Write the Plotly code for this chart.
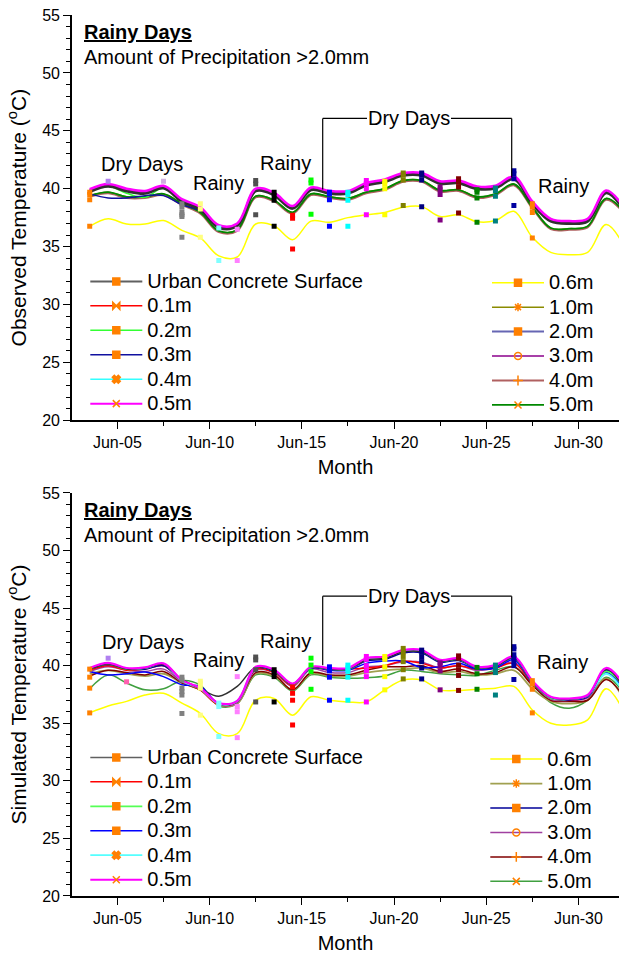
import plotly.graph_objects as go

# ---------------- data ----------------
days = [3.5, 4.5, 5.5, 6.5, 7.5, 8.5, 9.5, 10.5, 11.5, 12.5, 13.5, 14.5, 15.5, 16.5, 17.5,
        18.5, 19.5, 20.5, 21.5, 22.5, 23.5, 24.5, 25.5, 26.5, 27.5, 28.5, 29.5, 30.5, 31.5, 32.5]
tick_days = [5, 10, 15, 20, 25, 30]
tick_labels = ["Jun-05", "Jun-10", "Jun-15", "Jun-20", "Jun-25", "Jun-30"]
minor_days = [7.5, 12.5, 17.5, 22.5, 27.5]

series_names = ["Urban Concrete Surface", "0.1m", "0.2m", "0.3m", "0.4m", "0.5m",
                "0.6m", "1.0m", "2.0m", "3.0m", "4.0m", "5.0m"]

# Observed temperature (smoothed curves, degC)
obs_bundle = [39.85, 40.30, 39.90, 39.70, 40.15, 39.00, 38.30, 36.75, 36.90, 39.90, 39.55, 38.40, 40.00, 39.70, 39.70,
              40.40, 40.70, 41.25, 41.25, 40.55, 40.60, 40.10, 40.15, 40.95, 38.80, 37.30, 37.10, 37.30, 39.75, 38.20]
obs_urban = [39.75, 40.20, 39.80, 39.60, 40.05, 38.90, 38.20, 36.65, 36.80, 39.80, 39.45, 38.30, 39.90, 39.60, 39.60,
             40.30, 40.60, 41.15, 41.15, 40.45, 40.50, 40.00, 40.05, 40.85, 38.70, 37.20, 37.00, 37.20, 39.65, 38.10]
obs_02 = [39.80, 40.20, 39.60, 39.25, 40.05, 38.90, 38.30, 36.75, 36.90, 39.90, 39.55, 38.40, 40.00, 39.70, 39.70,
          40.40, 40.70, 41.25, 41.25, 40.55, 40.60, 40.10, 40.15, 40.95, 38.80, 37.30, 37.10, 37.30, 39.75, 38.20]
obs_03 = [39.55, 39.20, 39.20, 39.40, 39.40, 38.60, 38.10, 36.75, 36.90, 39.90, 39.55, 38.40, 40.00, 39.70, 39.70,
          40.40, 40.70, 41.25, 41.25, 40.55, 40.60, 40.10, 40.15, 40.95, 38.80, 37.30, 37.10, 37.30, 39.75, 38.20]
obs_05 = [39.95, 40.40, 40.00, 39.80, 40.25, 39.10, 38.40, 36.85, 37.00, 40.00, 39.65, 38.50, 40.10, 39.80, 39.80,
          40.50, 40.80, 41.35, 41.35, 40.65, 40.70, 40.20, 40.25, 41.05, 38.90, 37.40, 37.20, 37.40, 39.85, 38.30]
obs_06 = [36.75, 37.40, 36.95, 36.95, 37.25, 36.40, 35.75, 34.20, 34.10, 36.95, 36.80, 35.60, 37.20, 37.10, 37.50,
          37.75, 37.95, 38.40, 38.45, 37.60, 37.75, 37.15, 37.25, 38.05, 35.80, 34.50, 34.30, 34.50, 36.90, 35.00]
obs_low = [39.40, 39.70, 39.30, 39.30, 39.55, 38.70, 37.95, 36.35, 36.45, 39.35, 39.00, 37.95, 39.55, 39.30, 39.15,
           39.70, 40.00, 40.70, 40.70, 39.85, 39.90, 39.30, 39.55, 40.40, 38.40, 36.60, 36.55, 36.75, 39.15, 37.95]
obs_40 = [39.30, 39.60, 39.20, 39.20, 39.45, 38.60, 37.85, 36.25, 36.35, 39.25, 38.90, 37.85, 39.45, 39.20, 39.05,
          39.60, 39.90, 40.60, 40.60, 39.75, 39.80, 39.20, 39.45, 40.30, 38.30, 36.50, 36.45, 36.65, 39.05, 37.85]
observed = {"Urban Concrete Surface": obs_urban, "0.1m": obs_bundle, "0.2m": obs_02, "0.3m": obs_03,
            "0.4m": obs_bundle, "0.5m": obs_05, "0.6m": obs_06, "1.0m": obs_low, "2.0m": obs_bundle,
            "3.0m": obs_bundle, "4.0m": obs_40, "5.0m": obs_low}

# Simulated temperature (smoothed curves, degC)
sim_urban = [39.70, 40.15, 39.70, 39.80, 40.10, 38.80, 38.00, 37.35, 38.20, 39.85, 39.55, 38.40, 39.85, 39.70, 39.70,
             40.50, 40.65, 41.20, 41.20, 40.40, 40.55, 39.85, 39.95, 40.70, 38.60, 37.25, 37.10, 37.40, 39.70, 38.00]
sim_01 = [39.60, 40.00, 39.60, 39.70, 40.00, 38.70, 37.90, 36.60, 36.90, 39.70, 39.40, 38.30, 39.80, 39.60, 39.70,
          39.80, 40.00, 40.40, 40.20, 39.80, 40.00, 39.70, 39.80, 40.20, 38.50, 37.20, 37.00, 37.30, 39.60, 37.90]
sim_02 = [39.70, 40.15, 39.70, 39.80, 40.15, 38.70, 38.00, 36.70, 36.90, 39.85, 39.55, 38.40, 39.85, 39.70, 39.70,
          40.55, 40.70, 41.25, 41.25, 40.40, 40.55, 39.85, 40.00, 40.70, 38.60, 37.20, 37.10, 37.40, 39.50, 38.10]
sim_03 = [39.50, 39.20, 39.30, 39.45, 39.05, 38.35, 38.20, 36.70, 36.90, 39.80, 39.50, 38.40, 39.80, 39.60, 39.60,
          40.20, 40.40, 40.40, 39.85, 39.90, 40.20, 39.70, 39.80, 40.50, 38.50, 37.20, 37.05, 37.30, 39.40, 37.80]
sim_04 = [39.75, 40.20, 39.75, 39.80, 40.15, 38.70, 38.00, 36.70, 36.95, 39.85, 39.60, 38.40, 39.85, 39.75, 39.75,
          40.60, 40.75, 41.30, 41.30, 40.45, 40.60, 39.85, 40.00, 40.75, 38.65, 37.25, 37.10, 37.40, 39.30, 37.60]
sim_05 = [39.80, 40.25, 39.80, 39.85, 40.20, 38.75, 38.05, 36.75, 36.95, 39.90, 39.65, 38.45, 39.90, 39.80, 39.80,
          40.65, 40.80, 41.35, 41.35, 40.50, 40.65, 39.90, 40.05, 40.80, 38.70, 37.30, 37.15, 37.45, 39.80, 38.30]
sim_06 = [35.90, 36.50, 36.90, 37.45, 37.60, 36.75, 35.85, 34.10, 34.10, 37.00, 37.15, 35.70, 37.30, 37.00, 36.85,
          36.85, 37.90, 38.75, 38.75, 37.90, 37.85, 37.95, 38.05, 38.20, 36.15, 35.00, 34.85, 35.30, 38.00, 35.90]
sim_10 = [39.30, 39.60, 39.30, 39.10, 39.30, 38.50, 37.90, 36.60, 36.70, 39.30, 39.10, 37.90, 39.30, 39.10, 39.10,
          39.40, 39.60, 39.70, 39.80, 39.40, 39.50, 39.20, 39.30, 39.60, 38.00, 36.90, 36.70, 37.00, 38.90, 37.00]
sim_20 = [39.70, 40.10, 39.70, 39.70, 40.00, 38.70, 38.00, 36.70, 36.90, 39.80, 39.50, 38.40, 39.80, 39.70, 39.70,
          40.40, 40.55, 41.10, 41.10, 40.30, 40.45, 39.80, 39.95, 40.65, 38.60, 37.20, 37.05, 37.35, 39.60, 38.00]
sim_30 = [39.50, 39.90, 39.60, 39.50, 39.70, 38.60, 37.90, 36.60, 36.80, 39.60, 39.40, 38.20, 39.70, 39.40, 39.40,
          39.90, 40.00, 40.35, 40.30, 39.80, 40.00, 39.60, 39.80, 40.30, 38.50, 37.10, 37.00, 37.20, 39.40, 37.70]
sim_40 = [39.10, 39.60, 39.40, 39.20, 39.50, 38.50, 37.90, 36.70, 36.90, 39.40, 39.20, 37.90, 39.40, 39.20, 39.20,
          39.60, 39.90, 39.90, 40.00, 39.50, 39.70, 39.30, 39.40, 39.90, 38.30, 37.00, 36.90, 37.00, 38.80, 37.20]
sim_50 = [38.00, 39.20, 38.50, 37.90, 38.00, 38.70, 38.30, 36.50, 36.70, 39.20, 39.00, 37.80, 39.20, 39.00, 38.90,
          38.95, 39.10, 39.60, 39.50, 39.30, 39.20, 39.15, 39.60, 39.90, 38.40, 36.80, 36.30, 37.00, 39.00, 37.50]
simulated = {"Urban Concrete Surface": sim_urban, "0.1m": sim_01, "0.2m": sim_02, "0.3m": sim_03,
             "0.4m": sim_04, "0.5m": sim_05, "0.6m": sim_06, "1.0m": sim_10, "2.0m": sim_20,
             "3.0m": sim_30, "4.0m": sim_40, "5.0m": sim_50}

# raw daily readings (scatter markers), grouped by day
obs_marker_days = [3.5, 4.5, 7.5, 8.5, 9.5, 10.5, 11.5, 12.5, 13.5, 14.5, 15.5, 16.5, 17.5,
                   18.5, 19.5, 20.5, 21.5, 22.5, 23.5, 24.5, 25.5, 26.5, 27.5]
obs_marker_vals = [[39.70, 39.50, 39.05, 36.75], [40.65], [40.65],
                   [38.70, 38.40, 37.95, 37.75, 37.60, 35.80], [38.70, 38.25, 35.80], [36.60, 33.80],
                   [36.50, 33.80], [40.70, 40.40, 37.75], [39.70, 39.40, 39.00, 36.75], [37.70, 37.45, 34.80],
                   [40.75, 40.50, 37.80], [39.70, 39.55, 39.05, 36.75], [39.70, 39.50, 39.00, 36.75],
                   [40.70, 40.45, 40.00, 37.75], [40.65, 40.40, 40.00, 37.75], [41.35, 41.15, 40.75, 38.55],
                   [41.35, 41.15, 40.75, 38.45], [40.15, 39.90, 39.50, 37.30], [40.85, 40.55, 40.15, 37.90],
                   [39.90, 39.70, 39.20, 37.10], [40.05, 39.85, 39.35, 37.20], [41.55, 41.30, 40.85, 38.55],
                   [38.70, 38.40, 37.95, 35.75]]
sim_marker_days = [3.5, 4.5, 5.5, 8.5, 9.5, 10.5, 11.5, 12.5, 13.5, 14.5, 15.5, 16.5, 17.5,
                   18.5, 19.5, 20.5, 21.5, 22.5, 23.5, 24.5, 25.5, 26.5, 27.5]
sim_marker_vals = [[39.70, 39.00, 38.05, 35.90], [40.65], [38.60],
                   [39.00, 38.75, 38.05, 37.75, 37.45, 35.85], [38.65, 38.45, 38.05, 35.70], [36.75, 36.45, 33.85],
                   [39.05, 36.45, 36.00, 33.75], [40.75, 40.50, 39.65, 36.85], [39.65, 39.40, 39.05, 36.85],
                   [38.15, 37.60, 37.00, 34.85], [40.65, 40.05, 39.50, 37.95], [39.90, 39.55, 39.00, 37.00],
                   [40.05, 39.80, 39.50, 39.00, 37.00], [40.80, 40.55, 40.00, 39.55, 39.05, 36.85],
                   [40.80, 40.55, 39.90, 39.05, 37.90], [41.50, 41.20, 40.80, 40.35, 39.65, 38.85],
                   [41.35, 41.15, 40.75, 40.35, 39.80, 38.85], [40.25, 40.05, 39.55, 37.90],
                   [40.85, 40.65, 40.05, 39.65, 39.15, 37.85], [39.85, 39.30, 37.95], [40.05, 39.80, 39.40, 37.45],
                   [41.65, 41.45, 40.95, 40.65, 40.35, 40.00, 38.80], [38.70, 38.40, 37.95, 35.90]]

# ---------------- styles ----------------
day_colors = {3.5: "#FF8000", 4.5: "#B080F0", 5.5: "#FF60B0", 7.5: "#D0B0E0", 8.5: "#808080",
              9.5: "#FFFF80", 10.5: "#80FFFF", 11.5: "#FF80FF", 12.5: "#505050", 13.5: "#000000",
              14.5: "#FF0000", 15.5: "#00FF00", 16.5: "#0000FF", 17.5: "#00FFFF", 18.5: "#FF00FF",
              19.5: "#FFFF00", 20.5: "#808000", 21.5: "#000080", 22.5: "#800080", 23.5: "#800000",
              24.5: "#008000", 25.5: "#008080", 26.5: "#0000A0", 27.5: "#FF8000"}

top_style = {"Urban Concrete Surface": ("#303030", 3.0), "0.1m": ("#FF0000", 1.5), "0.2m": ("#33FF33", 1.5),
             "0.3m": ("#1010A0", 1.5), "0.4m": ("#33FFFF", 1.5), "0.5m": ("#FF00FF", 2.5),
             "0.6m": ("#FFFF00", 1.5), "1.0m": ("#8B8B00", 1.5), "2.0m": ("#6666B3", 2.0),
             "3.0m": ("#8B008B", 1.5), "4.0m": ("#B06060", 2.0), "5.0m": ("#008800", 1.8)}
bot_style = {"Urban Concrete Surface": ("#303030", 1.5), "0.1m": ("#FF0000", 1.5), "0.2m": ("#55FF55", 1.8),
             "0.3m": ("#0000FF", 1.5), "0.4m": ("#55FFFF", 1.8), "0.5m": ("#FF00FF", 2.2),
             "0.6m": ("#FFFF00", 1.5), "1.0m": ("#A0A050", 1.8), "2.0m": ("#000099", 1.5),
             "3.0m": ("#A040A0", 1.5), "4.0m": ("#800000", 1.5), "5.0m": ("#40A040", 1.5)}
legend_line_colors = {"Urban Concrete Surface": "#606060"}
top_order = ["0.6m", "1.0m", "4.0m", "5.0m", "0.1m", "0.2m", "0.4m", "2.0m", "3.0m", "0.3m",
             "Urban Concrete Surface", "0.5m"]
bot_order = ["0.6m", "5.0m", "1.0m", "4.0m", "3.0m", "0.1m", "0.3m", "2.0m", "0.2m", "0.4m",
             "Urban Concrete Surface", "0.5m"]
legend_symbols = {"Urban Concrete Surface": "square", "0.1m": "bowtie", "0.2m": "square-x", "0.3m": "square",
                  "0.4m": "x", "0.5m": "x-thin-open", "0.6m": "square", "1.0m": "asterisk-open",
                  "2.0m": "square", "3.0m": "circle-open", "4.0m": "cross-thin-open", "5.0m": "x-thin-open"}

FONT = "Liberation Sans, Arial, sans-serif"
W, H = 620, 954
L, R, T, B = 72, 1, 14.5, 58
pw, ph = W - L - R, H - T - B
ITEMW = 52


def fx(px):
    return (px - L) / pw


def fy(py):
    return (H - B - py) / ph


fig = go.Figure()

panels = [
    ("x", "y", observed, top_style, top_order, obs_marker_days, obs_marker_vals, "legend", "legend2"),
    ("x2", "y2", simulated, bot_style, bot_order, sim_marker_days, sim_marker_vals, "legend3", "legend4"),
]
for xa, ya, curves, style, order, mdays, mvals, lg_a, lg_b in panels:
    for name in order:
        col, wid = style[name]
        fig.add_trace(go.Scatter(x=days, y=curves[name], mode="lines", line=dict(color=col, width=wid, shape="spline", smoothing=1.0),
                                 xaxis=xa, yaxis=ya, showlegend=False, hoverinfo="skip"))
    mx, my, mc = [], [], []
    for d, vals in zip(mdays, mvals):
        for v in vals:
            mx.append(d)
            my.append(v)
            mc.append(day_colors[d])
    fig.add_trace(go.Scatter(x=mx, y=my, mode="markers", marker=dict(symbol="square", size=5, color=mc),
                             xaxis=xa, yaxis=ya, showlegend=False, hoverinfo="skip"))
    for i, name in enumerate(series_names):
        col, wid = style[name]
        col = legend_line_colors.get(name, col)
        sym = legend_symbols[name]
        fig.add_trace(go.Scatter(x=[None], y=[None], mode="lines+markers", name=f'<span style="font-size:20px">{name}</span>',
                                 line=dict(color=col, width=min(wid, 2.0)),
                                 marker=dict(symbol=sym, size=7, color="#FF8000", line=dict(color="#FF8000", width=1.5)),
                                 xaxis=xa, yaxis=ya, legend=lg_a if i < 6 else lg_b))

top_dom = [fy(420), 1.0]
bot_dom = [0.0, fy(492.7)]
xr = [2.54, 32.2]
yr = [20, 55]

xbase = dict(range=xr, tickmode="array", tickvals=tick_days, ticktext=tick_labels, ticks="outside", ticklen=7,
             tickwidth=1.3, tickcolor="black", showline=True, linecolor="black", linewidth=1.6, showgrid=False,
             zeroline=False, tickfont=dict(size=16, color="black", family=FONT),
             minor=dict(tickvals=minor_days, ticks="outside", ticklen=4, tickcolor="black", tickwidth=1.3),
             title=dict(text="Month", font=dict(size=20, color="black", family=FONT), standoff=10))
ybase = dict(range=yr, tickmode="linear", tick0=20, dtick=5, ticks="outside", ticklen=7, tickwidth=1.3,
             tickcolor="black", showline=True, linecolor="black", linewidth=1.6, showgrid=False, zeroline=False,
             tickfont=dict(size=16, color="black", family=FONT),
             minor=dict(dtick=1, ticks="outside", ticklen=4, tickcolor="black", tickwidth=1.3))
xmir = dict(range=xr, tickmode="array", tickvals=tick_days, ticks="inside", ticklen=7, tickwidth=1.3,
            tickcolor="black", showline=True, linecolor="black", linewidth=1.6, showgrid=False, zeroline=False,
            showticklabels=False, side="top",
            minor=dict(tickvals=minor_days, ticks="inside", ticklen=4, tickcolor="black", tickwidth=1.3))
ymir = dict(range=yr, tickmode="linear", tick0=20, dtick=5, ticks="inside", ticklen=7, tickwidth=1.3,
            tickcolor="black", showline=True, linecolor="black", linewidth=1.6, showgrid=False, zeroline=False,
            showticklabels=False, side="right",
            minor=dict(dtick=1, ticks="inside", ticklen=4, tickcolor="black", tickwidth=1.3))

ytitle_font = dict(size=21, color="black", family=FONT)
fig.update_layout(
    width=W, height=H, margin=dict(l=L, r=R, t=T, b=B, autoexpand=False),
    paper_bgcolor="white", plot_bgcolor="white",
    font=dict(family=FONT, color="black"),
    xaxis=dict(xbase, anchor="y", domain=[0, 1]),
    yaxis=dict(ybase, anchor="x", domain=top_dom,
               title=dict(text="Observed Temperature (<sup>o</sup>C)", font=ytitle_font, standoff=10)),
    xaxis2=dict(xbase, anchor="y2", domain=[0, 1]),
    yaxis2=dict(ybase, anchor="x2", domain=bot_dom,
                title=dict(text="Simulated Temperature (<sup>o</sup>C)", font=ytitle_font, standoff=10)),
    xaxis3=dict(xmir, overlaying="x", anchor="y"),
    yaxis3=dict(ymir, overlaying="y", anchor="x"),
    xaxis4=dict(xmir, overlaying="x2", anchor="y2"),
    yaxis4=dict(ymir, overlaying="y2", anchor="x2"),
    showlegend=True,
)

lg_common = dict(xanchor="left", yanchor="top", bgcolor="rgba(0,0,0,0)", borderwidth=0, itemwidth=ITEMW,
                 font=dict(size=16.5, color="black", family=FONT), tracegroupgap=0, itemclick=False)
shift = ITEMW + 10
fig.update_layout(
    legend=dict(lg_common, x=fx(147.3 - shift), y=fy(263.8)),
    legend2=dict(lg_common, x=fx(549.0 - shift), y=fy(265.1)),
    legend3=dict(lg_common, x=fx(147.3 - shift), y=fy(740.1)),
    legend4=dict(lg_common, x=fx(547.3 - shift), y=fy(741.8)),
)

# text annotations and the "Dry Days" brackets
ann_font = dict(size=20, color="black", family=FONT)
texts = [
    ("<b><u>Rainy Days</u></b>", 82, 32, "left"), ("Amount of Precipitation >2.0mm", 82, 57, "left"),
    ("Dry Days", 141.5, 164, "center"), ("Rainy", 218.5, 183, "center"), ("Rainy", 285.5, 163, "center"),
    ("Dry Days", 409, 118, "center"), ("Rainy", 563.5, 185.5, "center"),
    ("<b><u>Rainy Days</u></b>", 82, 510, "left"), ("Amount of Precipitation >2.0mm", 82, 535, "left"),
    ("Dry Days", 143, 642, "center"), ("Rainy", 218.5, 660, "center"), ("Rainy", 285.5, 640.5, "center"),
    ("Dry Days", 409, 596, "center"), ("Rainy", 562, 661.5, "center"),
]
for t, px, py, anc in texts:
    fig.add_annotation(text=t, x=fx(px), y=fy(py), xref="paper", yref="paper", xanchor=anc, yanchor="middle",
                       showarrow=False, font=ann_font)

brackets = [(118, 189, 177), (596, 665, 657)]
for ytop, yl, yr_ in brackets:
    for x0, x1, y0, y1 in [(322.7, 367, ytop, ytop), (451, 511.7, ytop, ytop),
                           (322.7, 322.7, ytop, yl), (511.7, 511.7, ytop, yr_)]:
        fig.add_shape(type="line", x0=fx(x0), x1=fx(x1), y0=fy(y0), y1=fy(y1), xref="paper", yref="paper",
                      line=dict(color="black", width=1.2))

fig.write_html("out.html", config={"displayModeBar": False},
               post_script="document.body.style.margin='0px';document.body.style.overflow='hidden';")
